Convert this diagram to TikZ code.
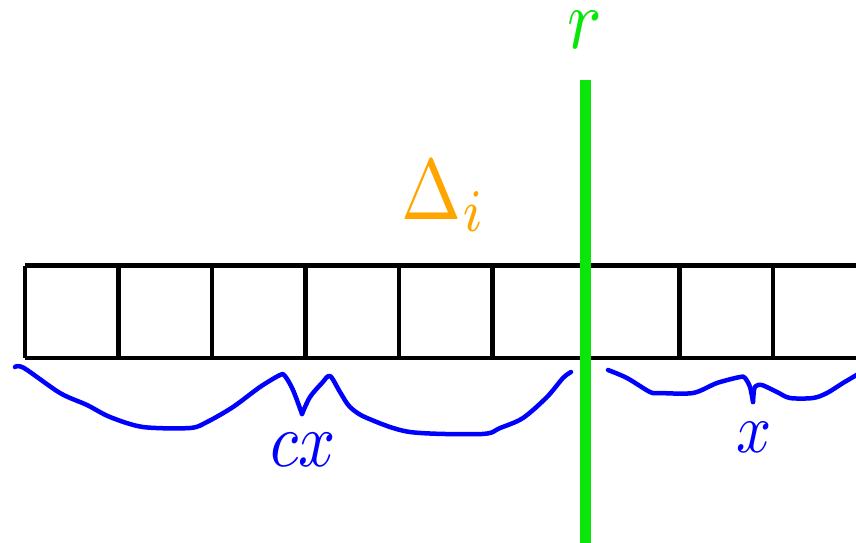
\documentclass[tikz,border=0pt]{standalone}
\usepackage{graphicx}
\definecolor{labOrange}{RGB}{255,165,0}
\definecolor{cutGreen}{RGB}{10,230,10}
\begin{document}
\begin{tikzpicture}[x=0.02cm,y=-0.02cm,
  gridline/.style={line width=0.085cm,black},
  cutline/.style={line width=0.22cm,cutGreen},
  brace/.style={line width=0.09cm,blue,line cap=round,line join=round},
  lab/.style={inner sep=0pt,anchor=base}]
\useasboundingbox (0,0) rectangle (856,542);
\clip (0,0) rectangle (856,542);
% grid
\draw[gridline] (25,265.5) -- (870,265.5);
\draw[gridline] (25,358) -- (870,358);
\foreach \k in {0,...,8}{
  \draw[gridline] ({25+93.5*\k},265.5) -- ({25+93.5*\k},358);
}
% cut line
\draw[cutline] (585.5,80) -- (585.5,545);
% labels
\node[lab,text=cutGreen] (r) at (585,48) {\scalebox{4.1}[4.9]{$r$}};
\node[lab,text=labOrange] (delta) at (444,219) {\scalebox{4.1}[4.9]{$\Delta_i$}};
\node[lab,text=blue] (cx) at (303.5,466) {\scalebox{3.7}[4.4]{$cx$}};
\node[lab,text=blue] (x) at (754.5,452) {\scalebox{3.5}[4.0]{$x$}};
% left brace
\draw[brace] plot[smooth,tension=0.5] coordinates {
 (15,367) (24,368) (60,393) (87,405) (110,417) (143,427) (190,428) (207,422)
 (233,407) (260,387) (280,375) (285,376) (293,390) (302,414)};
\draw[brace] plot[smooth,tension=0.5] coordinates {
 (302,414) (310,397) (322,383) (330,376) (340,392) (350,407) (367,418) (410,432)
 (482,434) (500,428) (523,418) (547,397) (563,378) (571,372)};
% right brace
\draw[brace] plot[smooth,tension=0.5] coordinates {
 (608,370) (627,378) (650,392) (660,393) (693,393) (717,383) (740,377) (745,378)
 (750,387) (753,402)};
\draw[brace] plot[smooth,tension=0.5] coordinates {
 (753,402) (754,390) (756,386) (762,385) (777,392) (790,398) (813,398) (827,393)
 (843,383) (860,373)};
\end{tikzpicture}
\end{document}
